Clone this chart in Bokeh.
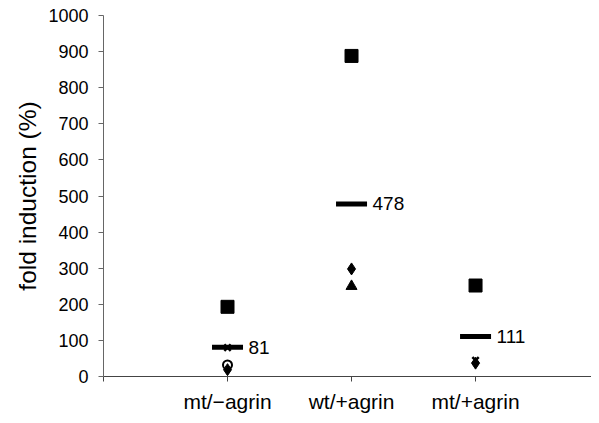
from bokeh.plotting import figure
from bokeh.models import FixedTicker, Range1d, ColumnDataSource
from bokeh.core.properties import value
from bokeh.embed import file_html
from bokeh.resources import INLINE

nan = float("nan")

categories = ["mt/\u2212agrin", "wt/+agrin", "mt/+agrin"]
cat_pos = [1, 2, 3]
square_vals = [193, 888, 252]
diamond_vals = [19, 298, 37]
triangle_vals = [nan, 250, nan]
cross_vals = [80, nan, 45]
circle_vals = [32, nan, nan]
means = [81, 478, 111]
mean_labels = ["81", "478", "111"]
y_ticks = [0, 100, 200, 300, 400, 500, 600, 700, 800, 900, 1000]

FONT = "Liberation Sans"

p = figure(width=591, height=415, output_backend="svg", toolbar_location=None,
           x_range=Range1d(0, 3.935), y_range=Range1d(0, 1000),
           min_border_left=103, min_border_right=0, min_border_top=15, min_border_bottom=39)
p.outline_line_color = None
p.grid.grid_line_color = None
p.background_fill_color = "white"
p.border_fill_color = "white"

# axes
p.xaxis.ticker = FixedTicker(ticks=[0, 1, 2, 3])
p.xaxis.major_label_overrides = {0: "", 1: categories[0], 2: categories[1], 3: categories[2]}
p.xaxis.major_label_text_font = FONT
p.xaxis.major_label_text_font_size = "21px"
p.xaxis.major_label_text_color = "black"
p.xaxis.major_label_standoff = 8
p.xaxis.major_tick_out = 5
p.xaxis.major_tick_in = 0
p.xaxis.minor_tick_line_color = None
p.xaxis.axis_line_color = "#444444"
p.xaxis.major_tick_line_color = "#444444"

p.yaxis.ticker = FixedTicker(ticks=y_ticks)
p.yaxis.major_label_text_font = FONT
p.yaxis.major_label_text_font_size = "18px"
p.yaxis.major_label_text_color = "black"
p.yaxis.major_label_standoff = 10
p.yaxis.major_tick_out = 5
p.yaxis.major_tick_in = 0
p.yaxis.minor_tick_line_color = None
p.yaxis.axis_line_color = "#666666"
p.yaxis.major_tick_line_color = "#666666"
p.yaxis.axis_label = "fold induction (%)"
p.yaxis.axis_label_text_font = FONT
p.yaxis.axis_label_text_font_size = "24.5px"
p.yaxis.axis_label_text_font_style = "normal"
p.yaxis.axis_label_text_color = "black"
p.yaxis.axis_label_standoff = 4

src = ColumnDataSource(dict(x=cat_pos, sq=square_vals, di=diamond_vals, tr=triangle_vals,
                            cr=cross_vals, ci=circle_vals, m=means, lab=mean_labels))

# mean bars
p.rect(x="x", y="m", width=0.25, height=5, height_units="screen", source=src,
       fill_color="black", line_color=None)
p.text(x="x", y="m", text="lab", source=src, x_offset=21, text_baseline="middle",
       text_align="left", text_font=value(FONT), text_font_size="19px", text_color="black")

# points
p.scatter(x="x", y="sq", marker="square", size=13, source=src, fill_color="black", line_color="black")
p.scatter(x="x", y="tr", marker="triangle", size=11, source=src, fill_color="black", line_color="black")
p.scatter(x="x", y="cr", marker="x", size=9, source=src, line_color="black", line_width=2.5)
p.scatter(x="x", y="ci", marker="circle", size=9, source=src, fill_color="white", line_color="black", line_width=2)
p.scatter(x="x", y="di", marker="diamond", size=12, source=src, fill_color="black", line_color="black")

open("out.html", "w").write(file_html(p, INLINE))
